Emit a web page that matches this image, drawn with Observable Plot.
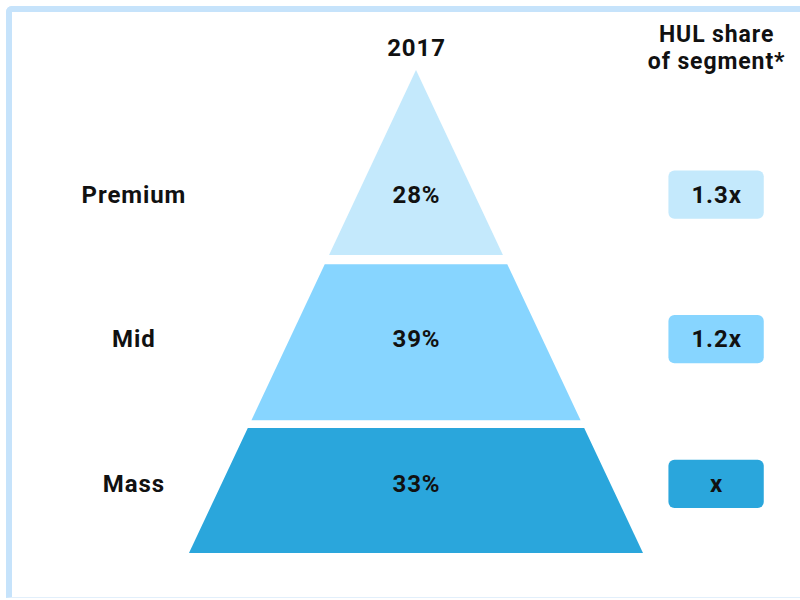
<!DOCTYPE html>
<html>
<head>
<meta charset="utf-8">
<script src="https://cdn.jsdelivr.net/npm/d3@7"></script>
<script src="https://cdn.jsdelivr.net/npm/@observablehq/plot@0.6"></script>
<style>
  html, body { margin: 0; padding: 0; background: #fff; }
  #wrap { position: relative; width: 800px; height: 600px; overflow: hidden; }
  #frame { position: absolute; left: 6px; top: 6px; width: 900px; height: 592px;
           border-left: 6px solid #C6E3FB; border-top: 6px solid #C6E3FB;
           border-bottom: 1px solid #E2EFFB; border-top-left-radius: 6px; box-sizing: border-box; }
  #chart { position: absolute; left: 0; top: 0; }
  #chart text { letter-spacing: 0.9px; }
</style>
</head>
<body>
<div id="wrap"><div id="frame"></div><div id="chart"></div></div>
<script>
// ---- data ----
const year = "2017";
const segments = ["Premium", "Mid", "Mass"];
const shares = [28, 39, 33];              // % of market in 2017
const hulShare = ["1.3x", "1.2x", "x"];   // HUL share of segment
const headerLabel = "HUL share\nof segment*";
const segmentColors = ["#C4E9FC", "#87D5FF", "#2AA6DC"];

// ---- layout (pyramid depth 0 = apex, 1 = base; width ±depth) ----
const bands = [[0, 0.383], [0.402, 0.725], [0.741, 1]];
const labelDepth = [0.258, 0.557, 0.857];
const catX = -1.245, boxX = 1.322, boxHalfW = 0.21, boxHalfH = 0.05;

const areaRows = segments.flatMap((s, i) =>
  bands[i].map(t => ({segment: s, t, x1: -t, x2: t})));
const rows = segments.map((s, i) => ({
  segment: s, share: shares[i] + "%", hul: hulShare[i], t: labelDepth[i]
}));

const font = "Roboto, 'DejaVu Sans', sans-serif";

const chart = Plot.plot({
  width: 800, height: 600,
  margin: 0,
  x: {domain: [-1, 1], range: [189, 643], axis: null},
  y: {domain: [0, 1], range: [70, 553], axis: null},
  color: {domain: segments, range: segmentColors},
  style: {fontFamily: font, background: "transparent"},
  marks: [
    Plot.areaX(areaRows, {y: "t", x1: "x1", x2: "x2", z: "segment", fill: "segment", curve: "linear"}),
    Plot.text(rows, {x: 0, y: "t", text: "share", fontSize: 24, fontWeight: "bold", fill: "#111"}),
    Plot.text(rows, {x: catX, y: "t", text: "segment", fontSize: 24, fontWeight: "bold", fill: "#111"}),
    Plot.rect(rows, {x1: boxX - boxHalfW, x2: boxX + boxHalfW,
      y1: d => d.t - boxHalfH, y2: d => d.t + boxHalfH, fill: "segment", rx: 6}),
    Plot.text(rows, {x: boxX, y: "t", text: "hul", fontSize: 24, fontWeight: "bold", fill: "#111"}),
    Plot.text([year], {x: 0, y: -0.046, text: d => d, fontSize: 24, fontWeight: "bold", fill: "#111"}),
    Plot.text([headerLabel], {x: boxX, y: -0.048, text: d => d, fontSize: 23, fontWeight: "bold",
      lineHeight: 1.17, fill: "#111"})
  ]
});
document.getElementById("chart").appendChild(chart);
</script>
</body>
</html>
